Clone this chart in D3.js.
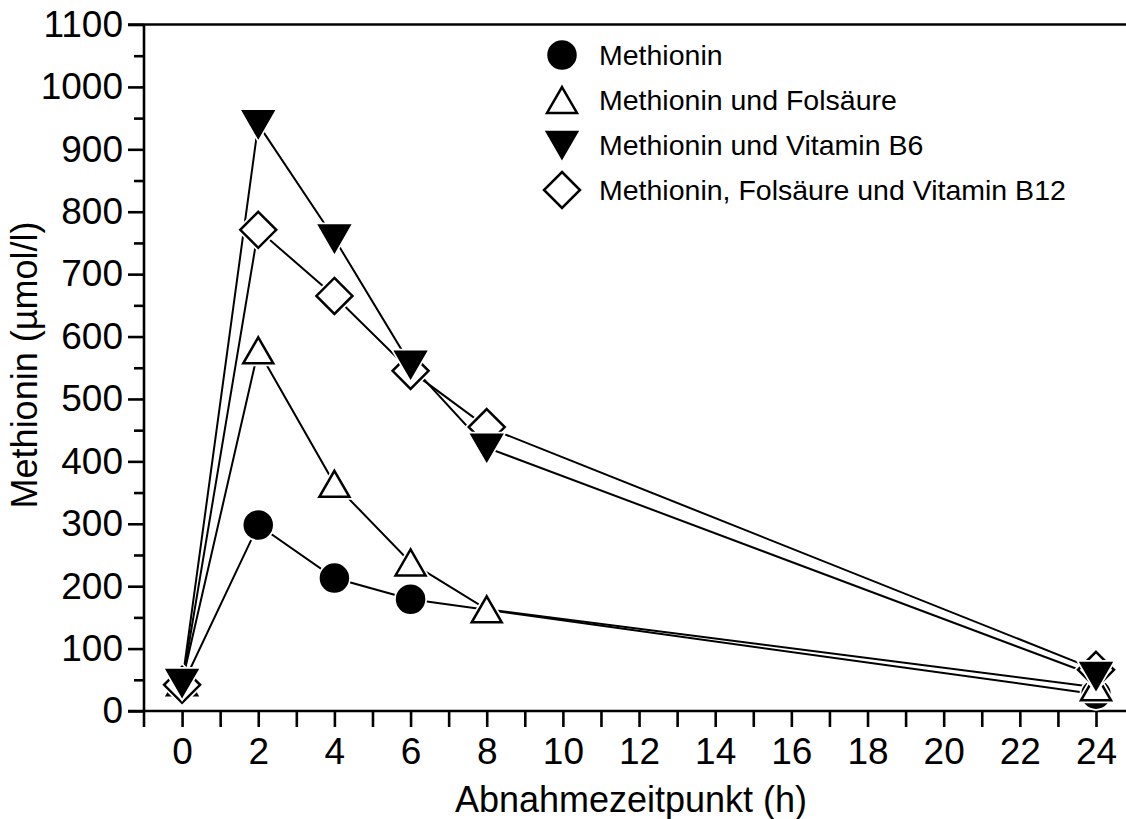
<!DOCTYPE html>
<html>
<head>
<meta charset="utf-8">
<script src="https://d3js.org/d3.v7.min.js"></script>
<style>
    body { margin: 0; background: #fff; }
    svg { display: block; font-family: "Liberation Sans", Arial, sans-serif; }
</style>
</head>
<body>
<svg id="chart" width="1126" height="819"></svg>
<script>
// data (methionine in umol/l)
const hours = [0, 2, 4, 6, 8, 24];
const hoursMethionin = [0, 2, 4, 6, 24];
const methionin = [40, 298, 213, 179, 27];
const folsaeure = [46, 578, 364, 238, 163, 38];
const vitaminB6 = [45, 940, 757, 555, 422, 56];
const folsB12 = [42, 771, 665, 545, 455, 66];
const legendLabels = [
    'Methionin',
    'Methionin und Folsäure',
    'Methionin und Vitamin B6',
    'Methionin, Folsäure und Vitamin B12',
];
const xTickLabels = d3.range(0, 25, 2);
const yTickLabels = d3.range(0, 1101, 100);

const config = {
    width: 1126,
    height: 819,
    left: 144,
    right: 1096,
    top: 24.5,
    bottom: 711,
    fontSize: 36,
    tickFont: 37,
}

let svg = d3.select('svg#chart');

const x = d3.scaleLinear().domain([-1, 24]).range([config.left, config.right]);
const y = d3.scaleLinear().domain([0, 1100]).range([config.bottom, config.top]);

// marker shapes, drawn around 0,0
const shapes = {
    circle: r => { const p = d3.path(); p.moveTo(r, 0); p.arc(0, 0, r, 0, 2 * Math.PI); p.closePath(); return p.toString(); },
    up: r => { const h = r * Math.sqrt(3) / 2; return `M0,${-h}L${r},${h}L${-r},${h}Z`; },
    down: r => { const h = r * Math.sqrt(3) / 2; return `M0,${h}L${r},${-h}L${-r},${-h}Z`; },
    diamond: r => `M0,${-r}L${r},0L0,${r}L${-r},0Z`,
};

const series = [
    { name: legendLabels[0], hours: hoursMethionin, values: methionin, shape: 'circle', r: 13.5, fill: '#000' },
    { name: legendLabels[1], hours: hours, values: folsaeure, shape: 'up', r: 15, fill: '#fff' },
    { name: legendLabels[2], hours: hours, values: vitaminB6, shape: 'down', r: 15, fill: '#000' },
    { name: legendLabels[3], hours: hours, values: folsB12, shape: 'diamond', r: 18, fill: '#fff' },
];
series.forEach(s => { s.points = s.hours.map((h, i) => ({ h: h, v: s.values[i] })); });

// y axis: major + minor ticks
const yaxis = svg.append('g').attr('transform', 'translate(' + config.left + ',0)');
yaxis.call(d3.axisLeft(y).tickValues(yTickLabels).tickSize(16).tickPadding(5).tickFormat(d => String(d)));
const yminor = svg.append('g').attr('transform', 'translate(' + config.left + ',0)');
yminor.call(d3.axisLeft(y).tickValues(d3.range(50, 1100, 100)).tickSize(10).tickFormat(''));

// x axis: tick every hour, label every second
const xaxis = svg.append('g').attr('transform', 'translate(0,' + config.bottom + ')');
xaxis.call(d3.axisBottom(x).tickValues(d3.range(0, 25)).tickSize(16).tickPadding(11)
    .tickFormat(d => xTickLabels.includes(d) ? String(d) : ''));

svg.selectAll('.domain').remove();
svg.selectAll('.tick line').attr('stroke', '#000').attr('stroke-width', 2.6);
svg.selectAll('.tick text').attr('fill', '#000').style('font-size', config.tickFont + 'px')
    .style('font-family', '"Liberation Sans", Arial, sans-serif');

// axis lines + top border
const frame = svg.append('g').attr('stroke', '#000').attr('stroke-width', 2.6);
frame.append('line').attr('x1', x(-1)).attr('x2', x(-1)).attr('y1', y(1100)).attr('y2', config.bottom + 16);
frame.append('line').attr('x1', config.left - 16).attr('x2', config.width).attr('y1', y(0)).attr('y2', y(0));
frame.append('line').attr('x1', config.left - 16).attr('x2', config.width).attr('y1', y(1100)).attr('y2', y(1100));

// axis titles
svg.append('text').attr('x', 631).attr('y', 812).attr('text-anchor', 'middle')
    .style('font-size', config.fontSize + 'px').text('Abnahmezeitpunkt (h)');
svg.append('text').attr('transform', 'translate(37,365) rotate(-90)').attr('text-anchor', 'middle')
    .style('font-size', config.fontSize + 'px').text('Methionin (µmol/l)');

// lines first, markers on top
const line = d3.line().x(d => x(d.h)).y(d => y(d.v));
svg.append('g').selectAll('path').data(series).enter().append('path')
    .attr('d', d => line(d.points))
    .attr('fill', 'none').attr('stroke', '#000').attr('stroke-width', 2);

// each marker gets a thin white halo, so lines stop just short of it
const drawOrder = [series[0], series[1], series[3], series[2]];
drawOrder.forEach(s => {
    const g = svg.append('g').selectAll('g').data(s.points).enter().append('g')
        .attr('transform', d => 'translate(' + x(d.h) + ',' + y(d.v) + ')');
    g.append('path').attr('d', shapes[s.shape](s.r))
        .attr('fill', '#fff').attr('stroke', '#fff').attr('stroke-width', 6);
    g.append('path').attr('d', shapes[s.shape](s.r))
        .attr('fill', s.fill).attr('stroke', '#000').attr('stroke-width', 2.5);
});

// legend
const legend = svg.append('g').attr('transform', 'translate(562,55)');
const items = legend.selectAll('g').data(series).enter().append('g')
    .attr('transform', (d, i) => 'translate(0,' + (i * 45) + ')');
items.append('path').attr('d', d => shapes[d.shape](d.r))
    .attr('fill', d => d.fill).attr('stroke', '#000').attr('stroke-width', 2.5);
items.append('text').attr('x', 37).attr('y', 10).style('font-size', '28.5px').text(d => d.name);
</script>
</body>
</html>
